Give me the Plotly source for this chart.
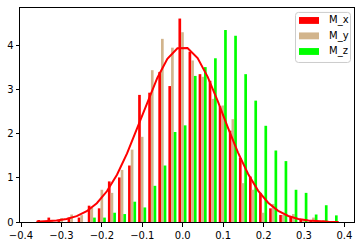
import plotly.graph_objects as go

# ---- data ----
bin_edges = [-0.3620, -0.3371, -0.3122, -0.2873, -0.2623, -0.2374, -0.2125, -0.1876,
             -0.1626, -0.1377, -0.1128, -0.0879, -0.0629, -0.0380, -0.0131, 0.0118,
             0.0368, 0.0617, 0.0866, 0.1115, 0.1365, 0.1614, 0.1863, 0.2112,
             0.2361, 0.2611, 0.2860, 0.3109, 0.3358, 0.3608, 0.3857]

m_x = [0.03, 0.10, 0.04, 0.10, 0.10, 0.37, 0.31, 0.92, 1.01, 1.28,
       2.88, 2.93, 3.40, 3.08, 4.61, 3.86, 3.35, 3.20, 2.62, 2.07,
       1.45, 1.03, 0.66, 0.31, 0.16, 0.12, 0.04, 0.04, 0.02, 0.02]
m_y = [0.02, 0.03, 0.09, 0.17, 0.155, 0.32, 0.73, 0.66, 1.18, 1.64,
       1.93, 3.44, 4.15, 3.95, 4.30, 3.66, 3.29, 2.79, 2.64, 2.33,
       0.88, 0.73, 0.21, 0.41, 0.16, 0.18, 0.07, 0.10, 0.04, 0.02]
m_z = [0.0, 0.0, 0.0, 0.0, 0.0, 0.10, 0.10, 0.21, 0.18, 0.46,
       0.33, 0.82, 1.28, 2.04, 2.19, 3.31, 3.51, 3.71, 4.35, 4.22,
       3.35, 2.75, 2.18, 1.62, 1.38, 0.73, 0.66, 0.17, 0.38, 0.15]

curve_y = [0.006, 0.014, 0.032, 0.067, 0.132, 0.244, 0.425, 0.696, 1.072, 1.553,
           2.115, 2.708, 3.264, 3.696, 3.936, 3.943, 3.713, 3.288, 2.739, 2.145,
           1.578, 1.093, 0.712, 0.436, 0.252, 0.136, 0.069, 0.033, 0.015, 0.006, 0.0025]

series_names = ["M_x", "M_y", "M_z"]
series_colors = ["#ff0000", "#d2b48c", "#00ff00"]
x_ticks = [-0.4, -0.3, -0.2, -0.1, 0.0, 0.1, 0.2, 0.3, 0.4]
x_tick_text = ["\u22120.4", "\u22120.3", "\u22120.2", "\u22120.1", "0.0", "0.1", "0.2", "0.3", "0.4"]
y_ticks = [0, 1, 2, 3, 4]

centers = [(bin_edges[i] + bin_edges[i + 1]) / 2 for i in range(len(bin_edges) - 1)]

fig = go.Figure()
for name, vals, col in zip(series_names, [m_x, m_y, m_z], series_colors):
    fig.add_trace(go.Bar(x=centers, y=vals, name=name, marker=dict(color=col, line=dict(width=0)),
                         showlegend=False))
fig.add_trace(go.Scatter(x=bin_edges, y=curve_y, mode="lines", line=dict(color="#ff0000", width=2),
                         showlegend=False))

W, H = 362, 248
ML, MR, MT, MB = 20, 8, 7, 23
PW, PH = W - ML - MR, H - MT - MB


def px_x(x):
    return (x - ML) / PW


def px_y(y):
    return (MT + PH - y) / PH


# legend drawn as shapes + text
shapes = []
bx0, bx1, by0, by1 = 295.5, 350.5, 11.5, 62.5
r = 3.0
rx, ry = r / PW, r / PH
X0, X1, Y0, Y1 = px_x(bx0), px_x(bx1), px_y(by1), px_y(by0)
path = (f"M {X0+rx},{Y0} L {X1-rx},{Y0} Q {X1},{Y0} {X1},{Y0+ry} L {X1},{Y1-ry} "
        f"Q {X1},{Y1} {X1-rx},{Y1} L {X0+rx},{Y1} Q {X0},{Y1} {X0},{Y1-ry} "
        f"L {X0},{Y0+ry} Q {X0},{Y0} {X0+rx},{Y0} Z")
shapes.append(dict(type="path", xref="paper", yref="paper", path=path,
                   fillcolor="rgba(255,255,255,0.8)", line=dict(color="#cccccc", width=1)))
annotations = []
rows = [19.7, 35.4, 51.3]
for name, col, yc in zip(series_names, series_colors, rows):
    shapes.append(dict(type="rect", xref="paper", yref="paper",
                       x0=px_x(299), x1=px_x(319), y0=px_y(yc + 3.5), y1=px_y(yc - 3.5),
                       fillcolor=col, line=dict(width=0)))
    annotations.append(dict(xref="paper", yref="paper", x=px_x(327), y=px_y(yc), text=name,
                            showarrow=False, xanchor="left", yanchor="middle",
                            font=dict(family="DejaVu Sans", size=10, color="#000000")))

fig.update_layout(
    width=W, height=H,
    margin=dict(l=ML, r=MR, t=MT, b=MB, pad=0),
    paper_bgcolor="white", plot_bgcolor="white",
    barmode="group", bargap=0.2, bargroupgap=0,
    font=dict(family="DejaVu Sans", size=10, color="#000000"),
    shapes=shapes, annotations=annotations,
    showlegend=False,
)
fig.update_xaxes(range=[-0.4025, 0.4236], tickvals=x_ticks, ticktext=x_tick_text,
                 ticks="outside", ticklen=3.5, tickwidth=1, tickcolor="black",
                 showline=True, linecolor="black", linewidth=1, mirror=True,
                 showgrid=False, zeroline=False)
fig.update_yaxes(range=[0, 4.849], tickvals=y_ticks,
                 ticks="outside", ticklen=3.5, tickwidth=1, tickcolor="black",
                 showline=True, linecolor="black", linewidth=1, mirror=True,
                 showgrid=False, zeroline=False)

fig.write_html("out.html")
